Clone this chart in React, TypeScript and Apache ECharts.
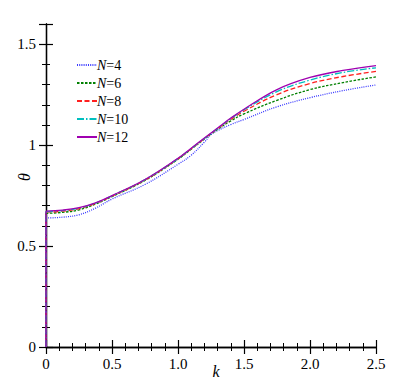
import React, { useEffect, useRef } from "react";
import * as echarts from "echarts";

const kValues = [0, 0, 0.125, 0.25, 0.375, 0.5, 0.75, 1.0, 1.1, 1.2, 1.25, 1.3, 1.4, 1.5, 1.75, 2.0, 2.25, 2.5];
const thetaN4 = [0, 0.639, 0.643, 0.655, 0.688, 0.733, 0.805, 0.905, 0.95, 1.015, 1.052, 1.072, 1.102, 1.127, 1.19, 1.235, 1.27, 1.298];
const thetaN6 = [0, 0.662, 0.667, 0.679, 0.708, 0.745, 0.825, 0.93, 0.98, 1.03, 1.055, 1.078, 1.12, 1.155, 1.222, 1.275, 1.31, 1.338];
const thetaN8 = [0, 0.668, 0.673, 0.685, 0.711, 0.747, 0.827, 0.932, 0.982, 1.032, 1.057, 1.081, 1.127, 1.168, 1.25, 1.305, 1.34, 1.365];
const thetaN10 = [0, 0.671, 0.676, 0.688, 0.713, 0.749, 0.829, 0.933, 0.983, 1.033, 1.058, 1.083, 1.131, 1.175, 1.265, 1.322, 1.36, 1.383];
const thetaN12 = [0, 0.673, 0.678, 0.69, 0.714, 0.75, 0.83, 0.935, 0.985, 1.035, 1.06, 1.085, 1.134, 1.178, 1.275, 1.335, 1.37, 1.394];

const seriesNames = ["N=4", "N=6", "N=8", "N=10", "N=12"];
const seriesData = [thetaN4, thetaN6, thetaN8, thetaN10, thetaN12];
const seriesColors = ["#3b3bff", "#008000", "#ff1f1f", "#00bfbf", "#a000b0"];
const seriesDash: any[] = [[1, 1.2], [2.5, 1.5], [5, 2.5], [7, 2, 1.5, 2], "solid"];

const FONT = "Liberation Serif, Times New Roman, serif";

export default function App() {
  const ref = useRef<HTMLDivElement>(null);
  useEffect(() => {
    if (!ref.current) return;
    const chart = echarts.init(ref.current, undefined, { renderer: "svg" });
    const axisLine = { show: true, lineStyle: { color: "#000", width: 1.3 } };
    const tick = { show: true, inside: false, length: 7, lineStyle: { color: "#000", width: 1.2 } };
    const minor = { show: true, splitNumber: 5, length: 4, lineStyle: { color: "#000", width: 1 } };
    const xCommon = {
      type: "value",
      min: 0,
      max: 2.5,
      interval: 0.5,
      splitLine: { show: false },
      minorSplitLine: { show: false },
      axisLine,
      axisTick: tick,
      minorTick: minor,
    };
    const yCommon = {
      type: "value",
      min: 0,
      max: 1.6,
      interval: 0.5,
      splitLine: { show: false },
      minorSplitLine: { show: false },
      axisLine,
      axisTick: tick,
      minorTick: minor,
    };
    chart.setOption({
      animation: false,
      backgroundColor: "#fff",
      textStyle: { fontFamily: FONT },
      grid: { left: 46, right: 23, top: 24, bottom: 43 },
      xAxis: [
        {
          ...xCommon,
          position: "bottom",
          axisLabel: {
            show: true,
            color: "#000",
            fontFamily: FONT,
            fontSize: 15,
            margin: 9,
            formatter: (v: number) => (v === 0 ? "0" : v.toFixed(1)),
          },
        },
        { ...xCommon, position: "top", axisLabel: { show: false } },
      ],
      yAxis: [
        {
          ...yCommon,
          position: "left",
          axisLabel: {
            show: true,
            color: "#000",
            fontFamily: FONT,
            fontSize: 15,
            margin: 10,
            showMaxLabel: false,
            formatter: (v: number) => (v > 1.55 ? "" : String(v)),
          },
        },
        { ...yCommon, position: "right", axisLabel: { show: false } },
      ],
      legend: {
        orient: "vertical",
        left: 71,
        top: 53,
        itemWidth: 20,
        itemHeight: 14,
        itemGap: 4,
        data: seriesNames,
        itemStyle: { color: "transparent", borderWidth: 0, opacity: 0 },
        formatter: (name: string) => "{i|N}" + name.slice(1),
        textStyle: {
          color: "#000",
          fontFamily: FONT,
          fontSize: 14,
          padding: [0, 0, 0, -5],
          rich: {
            i: { fontStyle: "italic", fontFamily: FONT, fontSize: 14, color: "#000" },
          },
        },
      },
      graphic: [
        {
          type: "text",
          x: 216,
          y: 371,
          style: {
            text: "k",
            fontFamily: FONT,
            fontStyle: "italic",
            fontSize: 16,
            fill: "#000",
            align: "center",
            verticalAlign: "middle",
          },
        },
        {
          type: "text",
          x: 24,
          y: 177,
          rotation: Math.PI / 2,
          style: {
            text: "θ",
            fontFamily: FONT,
            fontStyle: "italic",
            fontSize: 16,
            fill: "#000",
            align: "center",
            verticalAlign: "middle",
          },
        },
      ],
      series: seriesNames.map((name, i) => {
        const s = seriesData[i];
        const data: any[] = [[kValues[0], s[0]], [kValues[1], s[1]], [kValues[1], null]];
        for (let j = 1; j < kValues.length; j++) data.push([kValues[j], s[j]]);
        return {
          name,
          type: "line",
          xAxisIndex: 0,
          yAxisIndex: 0,
          symbol: "none",
          showSymbol: false,
          smooth: 0.4,
          connectNulls: false,
          data,
          lineStyle: { color: seriesColors[i], width: 1.3, type: seriesDash[i] },
          itemStyle: { color: seriesColors[i] },
          z: 2 + i,
        };
      }),
    });
    return () => chart.dispose();
  }, []);
  return <div ref={ref} style={{ width: 399, height: 390, margin: -8 }} />;
}
